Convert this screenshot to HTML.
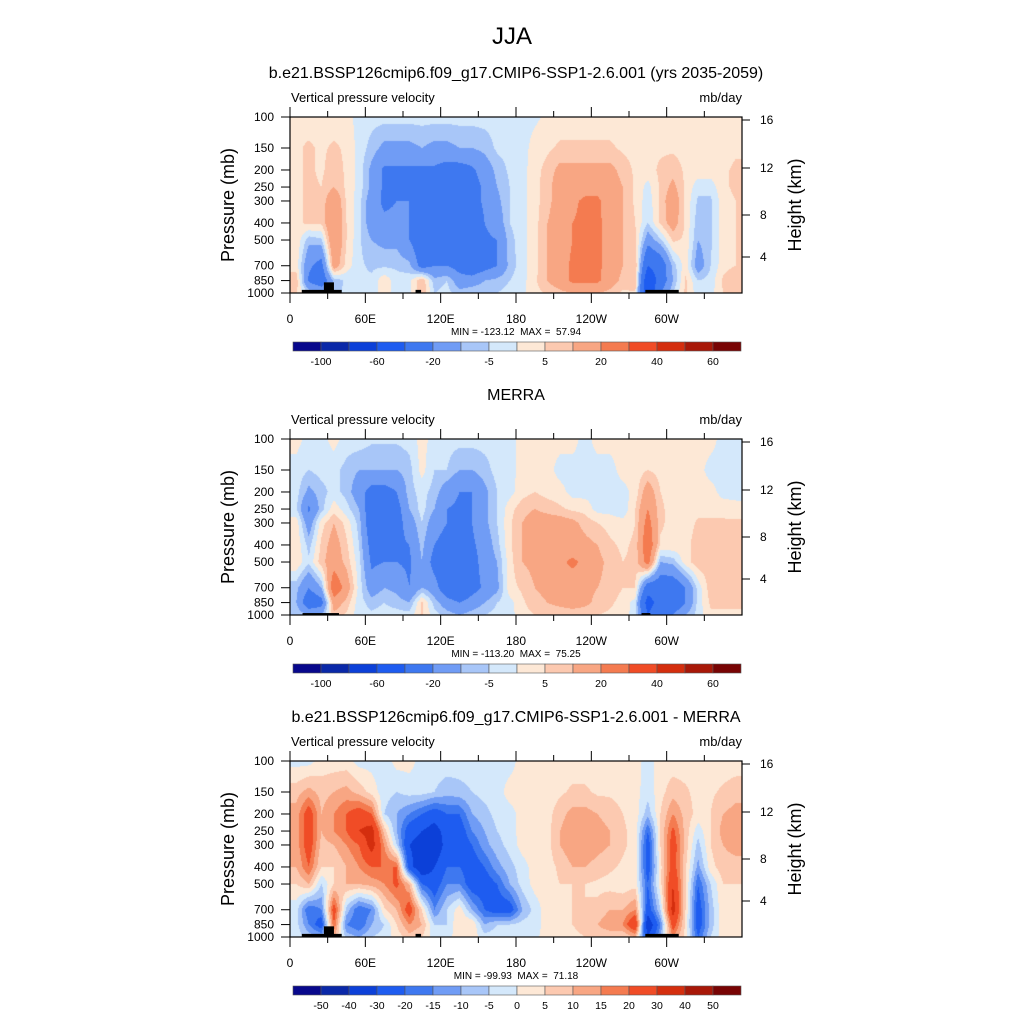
<!DOCTYPE html>
<html><head><meta charset="utf-8">
<style>
html,body{margin:0;padding:0;background:#fff;}
#root{position:relative;width:1024px;height:1024px;overflow:hidden;background:#fff;font-family:"Liberation Sans",sans-serif;}
canvas{position:absolute;}
svg{position:absolute;left:0;top:0;}
svg text{white-space:pre;}
</style></head>
<body>
<div id="root">
<canvas id="c0" width="452" height="176" style="left:290px;top:117px"></canvas>
<canvas id="c1" width="452" height="176" style="left:290px;top:439px"></canvas>
<canvas id="c2" width="452" height="176" style="left:290px;top:761px"></canvas>
<svg id="ov" width="1024" height="1024"></svg>
</div>
<script>
// ---- data ----
const pressures = [100,150,200,250,300,400,500,700,850,1000];
const lonCenters = [5,15,25,35,45,55,65,75,85,95,105,115,125,135,145,155,165,175,185,195,205,215,225,235,245,255,265,275,285,295,305,315,325,335,345,355];
const modelField = [
[3,2,2,2,2,-2,-3,-3,-3,-3,-3,-3,-3,-3,-3,-3,-3,-3,-2,-1,1,2,2,2,2,2,2,2,2,2,2,2,2,2,2,3],
[4,6,4,6,4,-2,-7,-12,-12,-12,-10,-12,-12,-10,-10,-8,-4,-3,-2,2,4,6,6,6,6,6,4,3,4,4,4,3,3,3,3,4],
[4,6,4,8,4,-2,-12,-22,-22,-22,-22,-22,-25,-25,-22,-15,-8,-4,-2,3,7,12,12,12,12,12,8,4,3,6,8,4,3,3,4,6],
[4,6,5,10,4,-2,-12,-22,-22,-20,-30,-30,-25,-30,-25,-18,-10,-5,-2,3,8,14,14,16,16,14,10,4,-2,6,12,4,-3,-3,4,6],
[4,6,6,18,4,-3,-15,-22,-20,-20,-30,-35,-25,-30,-25,-18,-12,-5,-2,3,8,14,18,22,22,14,10,4,-3,6,16,4,-6,-6,3,5],
[4,6,6,20,5,-3,-15,-18,-18,-20,-30,-35,-28,-35,-30,-20,-15,-5,-2,3,10,14,20,22,22,16,10,5,-5,6,14,4,-8,-6,3,5],
[4,-8,-6,20,5,-4,-10,-12,-12,-20,-30,-30,-28,-35,-30,-22,-20,-7,-2,3,10,14,20,24,22,16,10,6,-15,-6,6,4,-10,-6,3,5],
[3,-18,-25,15,3,-4,-6,-6,-6,-8,-25,-20,-20,-25,-30,-25,-20,-8,-2,3,10,15,22,24,22,16,10,10,-40,-30,-8,3,-15,-5,3,5],
[8,-22,-30,-8,-4,-4,-4,4,-3,-2,10,-8,-5,-15,-15,-10,-8,-5,-2,4,10,15,22,22,22,14,8,10,-60,-30,-10,6,-5,-3,6,10],
[6,-5,-10,-8,-3,-3,-3,3,-3,-2,10,-5,-3,-8,-5,-5,-5,-3,-1,3,6,8,10,10,10,8,4,4,-60,-20,-5,6,-3,-2,5,8]];
const merraField = [
[2,-2,-2,2,-2,-2,-4,-4,-4,-3,2,-2,-3,-3,-3,-3,-3,-2,2,3,2,2,2,-2,2,2,2,2,2,2,2,2,2,2,-2,-2],
[-2,-5,-3,-3,-7,-10,-10,-10,-10,-7,2,-5,-5,-10,-10,-7,-3,-2,2,3,2,-2,-2,-2,-2,-2,2,2,5,3,2,2,2,-2,-2,-2],
[-3,-12,-7,-3,-7,-15,-25,-25,-20,-7,-3,-7,-15,-20,-20,-12,-5,-2,3,5,3,2,-2,-2,-2,-2,-2,2,15,5,3,2,2,2,-2,-2],
[-4,-22,-7,3,-3,-10,-30,-30,-25,-10,-3,-10,-20,-22,-20,-12,-5,3,8,10,8,6,4,3,-2,-2,-4,5,20,6,3,2,3,3,3,2],
[3,-15,3,10,3,-7,-30,-25,-25,-15,-5,-15,-20,-25,-20,-12,-5,4,10,14,14,14,12,8,5,3,2,5,25,6,3,2,6,6,6,6],
[4,-7,6,14,6,-5,-25,-25,-22,-20,-8,-20,-25,-30,-22,-15,-7,4,10,14,14,14,14,12,10,6,4,6,30,4,4,3,8,8,8,8],
[4,-4,8,15,8,-3,-22,-20,-20,-22,-10,-25,-30,-35,-25,-15,-10,3,10,12,14,18,22,18,12,8,5,6,25,-10,-8,3,8,8,8,8],
[-8,-20,-10,30,15,-2,-15,-10,-12,-20,-10,-15,-30,-35,-25,-18,-12,3,6,10,12,14,14,12,10,8,5,5,-30,-30,-30,-20,-3,8,8,8],
[-10,-30,-25,15,8,-3,-7,-5,-7,-10,6,-7,-15,-20,-15,-10,-5,-2,4,8,10,12,14,12,8,6,3,-2,-50,-30,-30,-20,-3,6,6,6],
[-5,-10,-10,8,4,-3,-4,-3,-3,-3,6,-3,-7,-10,-7,-5,-3,-2,3,5,6,6,6,6,5,4,2,-2,-40,-20,-20,-10,-3,4,4,4]];
const diffField = [
[-2,-2,2,2,2,-2,-2,-3,2,2,-2,-2,-2,-2,-2,-2,-2,-2,2,2,2,2,2,2,2,2,2,2,-2,2,2,2,2,2,2,2],
[8,12,8,10,12,8,3,-3,-5,-3,-3,-5,-8,-7,-5,-3,-2,2,2,2,2,4,6,6,4,4,3,2,-3,3,8,6,3,4,6,8],
[12,25,10,15,20,25,20,-5,-10,-15,-20,-25,-20,-20,-10,-7,-3,-2,2,2,3,8,12,12,10,8,5,3,-8,5,15,8,3,5,10,12],
[12,25,10,15,20,30,35,8,-10,-25,-30,-35,-25,-25,-15,-10,-5,-2,2,2,3,10,14,14,12,10,6,3,-20,5,22,8,-3,5,12,15],
[12,25,8,10,15,20,35,15,-5,-30,-35,-40,-25,-25,-20,-12,-7,-3,2,2,3,10,14,14,12,10,6,3,-25,5,25,8,-7,5,10,12],
[10,20,5,5,10,15,20,20,20,-25,-40,-30,-20,-20,-25,-20,-12,-7,-2,2,3,6,10,10,8,6,4,3,-25,3,25,6,-12,3,8,8],
[5,10,-5,5,10,10,12,15,22,10,-20,-25,-15,-15,-25,-25,-20,-10,-3,2,3,5,5,5,4,3,2,3,-20,3,30,6,-20,-5,5,5],
[-3,-20,-15,25,-7,-20,-15,4,10,25,5,-15,-5,3,-10,-20,-25,-25,-10,-3,3,3,5,5,6,10,10,15,-25,-5,35,5,-25,-8,4,4],
[-3,-15,-25,20,-15,-20,-10,-5,5,15,10,-5,-5,5,5,-10,-5,-5,-3,-2,2,3,5,8,10,15,15,30,-40,-15,25,4,-25,-8,4,4],
[-2,-7,-10,10,-7,-10,-5,-3,2,8,5,-3,-2,3,3,-3,-2,-2,-1,-1,2,2,3,5,5,5,5,10,-30,-10,15,3,-20,-5,3,3]];
const fullLevels = [-100,-80,-60,-40,-20,-10,-5,0,5,10,20,30,40,50,60];
const fullLabels = ["-100","","-60","","-20","","-5","","5","","20","","40","","60"];
const diffLevels = [-50,-40,-30,-20,-15,-10,-5,0,5,10,15,20,30,40,50];
const diffLabels = ["-50","-40","-30","-20","-15","-10","-5","0","5","10","15","20","30","40","50"];
// land masks: [lonStart, lonEnd, topPressure]
const maskModel = [[9.4,41.2,960],[27,35,870],[100,104.4,960],[283,309.6,960]];
const maskMerra = [[10,39,975],[280,287,975]];
const panelTitles = ["b.e21.BSSP126cmip6.f09_g17.CMIP6-SSP1-2.6.001 (yrs 2035-2059)","MERRA","b.e21.BSSP126cmip6.f09_g17.CMIP6-SSP1-2.6.001 - MERRA"];
const minMax = ["MIN = -123.12  MAX =  57.94","MIN = -113.20  MAX =  75.25","MIN = -99.93  MAX =  71.18"];
const pTicks = [100,150,200,250,300,400,500,700,850,1000];
const hTicks = [16,12,8,4];
const hTickY = [3,51,98,140];
const lonTicks = [0,60,120,180,240,300];
const lonLabels = ["0","60E","120E","180","120W","60W"];
const colors = ["#08088c","#0a28a8","#0c40d8","#1e5cf0","#3e78f0","#709cf5","#a8c6f8","#d4e8fb","#fde8d6","#fcc9b0","#f8a683","#f47b50","#f04c26","#d42e0e","#a81808","#780404"];

// ---- geometry ----
const X0=290, W=452, H=176, tops=[117,439,761];
const xScale = lon => X0 + lon/360*W;
const yRel = p => (Math.log10(p)-2)*H;
const NS="http://www.w3.org/2000/svg";
const ov=document.getElementById('ov');
function mk(tag,attrs,parent){const e=document.createElementNS(NS,tag);for(const k in attrs)e.setAttribute(k,attrs[k]);(parent||ov).appendChild(e);return e;}
function txt(x,y,s,size,anchor,parent){const t=mk('text',{x:x,y:y,'font-size':size,'text-anchor':anchor||'start',fill:'#000','font-family':'Liberation Sans, sans-serif'},parent);t.textContent=s;return t;}

function colorFor(v,levels){let i=0;while(i<levels.length&&v>=levels[i])i++;return colors[i];}
function sample(field,lon,p){
  let fc=(lon-lonCenters[0])/10; fc=Math.max(0,Math.min(lonCenters.length-1,fc));
  const lp=Math.log10(p); let r=0;
  while(r<pressures.length-2&&lp>Math.log10(pressures[r+1]))r++;
  const a=Math.log10(pressures[r]),b=Math.log10(pressures[r+1]);
  let fr=Math.max(0,Math.min(1,(lp-a)/(b-a)));
  const c0=Math.floor(fc),c1=Math.min(c0+1,lonCenters.length-1),fx=fc-c0;
  const v0=field[r][c0]*(1-fx)+field[r][c1]*fx;
  const v1=field[r+1][c0]*(1-fx)+field[r+1][c1]*fx;
  return v0*(1-fr)+v1*fr;
}
function hex(c){return [parseInt(c.substr(1,2),16),parseInt(c.substr(3,2),16),parseInt(c.substr(5,2),16)];}
function drawField(id,field,levels){
  const cv=document.getElementById(id),ctx=cv.getContext('2d');
  const img=ctx.createImageData(W,H);
  for(let y=0;y<H;y++){const p=Math.pow(10,2+(y+0.5)/H);
    for(let x=0;x<W;x++){const lon=(x+0.5)/W*360;
      const rgb=hex(colorFor(sample(field,lon,p),levels));
      const k=(y*W+x)*4;img.data[k]=rgb[0];img.data[k+1]=rgb[1];img.data[k+2]=rgb[2];img.data[k+3]=255;}}
  ctx.putImageData(img,0,0);
}
const fields=[modelField,merraField,diffField];
const levelSets=[fullLevels,fullLevels,diffLevels];
const labelSets=[fullLabels,fullLabels,diffLabels];
const masks=[maskModel,maskMerra,maskModel];

txt(512,44,"JJA",24,'middle');

for(let k=0;k<3;k++){
  drawField('c'+k,fields[k],levelSets[k]);
  const T=tops[k];
  const g=mk('g',{});
  
  
  const t1=txt(516,T-39,panelTitles[k],16,'middle',g);
  
  const t2=txt(291,T-15,"Vertical pressure velocity",13,'start',g);
  
  const t3=txt(742,T-15,"mb/day",13,'end',g);
  
  masks[k].forEach(m=>{const r=mk('rect',{x:xScale(m[0]),y:T+yRel(m[2]),width:xScale(m[1])-xScale(m[0]),height:H-yRel(m[2]),fill:'#000'},g);
    
    });
  const fr=mk('rect',{x:X0,y:T,width:W,height:H,fill:'none',stroke:'#000','stroke-width':1.2},g);
  
  
  pTicks.forEach(p=>{const y=T+yRel(p);
    mk('line',{x1:X0-9,x2:X0,y1:y,y2:y,stroke:'#000'},g);
    const l=txt(X0-16,y+4,String(p),12,'end',g);
    });
  const yl=txt(0,0,"Pressure (mb)",18,'middle',g);
  yl.setAttribute('transform','translate(234,'+(T+88)+') rotate(-90)');
  
  hTicks.forEach((h,i)=>{const y=T+hTickY[i];
    mk('line',{x1:X0+W,x2:X0+W+8,y1:y,y2:y,stroke:'#000'},g);
    const l=txt(X0+W+18,y+4,String(h),12,'start',g);
    });
  const hl=txt(0,0,"Height (km)",18,'middle',g);
  hl.setAttribute('transform','translate(801,'+(T+88)+') rotate(-90)');
  
  for(let lon=0;lon<360;lon+=30){const x=xScale(lon),len=(lon%60===0)?10:6;
    mk('line',{x1:x,x2:x,y1:T,y2:T-len,stroke:'#000'},g);
    mk('line',{x1:x,x2:x,y1:T+H,y2:T+H+len,stroke:'#000'},g);}
  lonTicks.forEach((lon,i)=>{const l=txt(xScale(lon),T+H+30,lonLabels[i],12,'middle',g);
    });
  const mm=txt(516,T+H+42,minMax[k],10,'middle',g);
  
  const cb=mk('g',{},g);
  
  
  const cy=T+225,cw=28;
  for(let i=0;i<colors.length;i++){const r=mk('rect',{x:293+i*cw,y:cy,width:cw,height:9,fill:colors[i],stroke:'#555','stroke-width':0.6},cb);
    }
  levelSets[k].forEach((v,i)=>{if(labelSets[k][i]){const l=txt(293+(i+1)*cw,cy+23,labelSets[k][i],10.5,'middle',cb);
    }});
}
</script>
</body></html>
